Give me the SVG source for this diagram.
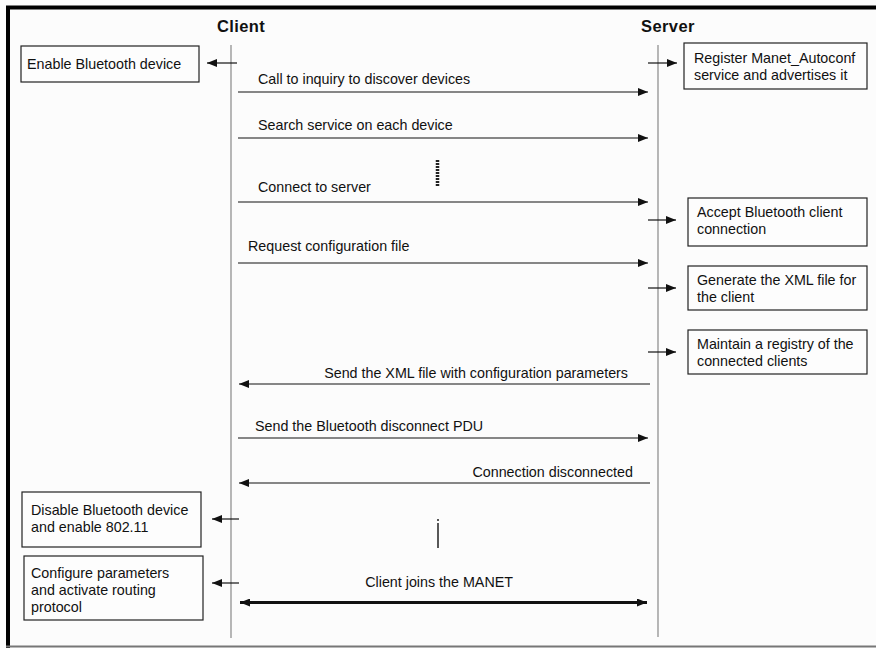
<svg xmlns="http://www.w3.org/2000/svg" width="876" height="648" viewBox="0 0 876 648">
<defs>
<style>
text{font-family:"Liberation Sans",Arial,sans-serif;font-size:14.3px;fill:#111}
.h{font-weight:bold;font-size:16.5px;letter-spacing:0.4px}
.box{fill:#fdfdfd;stroke:#222;stroke-width:1.2}
.life{stroke:#888;stroke-width:1.2}
.msg{stroke:#111;stroke-width:1.2;fill:none}
</style>
<marker id="ah" viewBox="0 0 10 8" refX="10" refY="4" markerWidth="10" markerHeight="8" markerUnits="userSpaceOnUse" orient="auto">
<path d="M0,0 L10,4 L0,8 Z" fill="#111"/>
</marker>
<marker id="ahb" viewBox="0 0 10 8" refX="10" refY="4" markerWidth="10" markerHeight="8" markerUnits="userSpaceOnUse" orient="auto-start-reverse">
<path d="M0,0 L10,4 L0,8 Z" fill="#111"/>
</marker>
</defs>
<rect x="0" y="0" width="876" height="648" fill="#fcfcfc"/>
<g id="frame">
<line x1="6" y1="7.5" x2="876" y2="7.5" stroke="#000" stroke-width="4"/>
<line x1="8" y1="6" x2="8" y2="648" stroke="#000" stroke-width="4"/>
<line x1="6" y1="646.5" x2="876" y2="646.5" stroke="#777" stroke-width="2"/>
</g>
<g id="client">
<text class="h" x="217" y="32">Client</text>
<line class="life" x1="231" y1="45" x2="231" y2="638"/>
</g>
<g id="server">
<text class="h" x="641" y="32">Server</text>
<line class="life" x1="658" y1="45" x2="658" y2="637"/>
</g>
<g id="n-enable">
<rect class="box" x="21" y="46" width="178" height="36"/>
<text x="27" y="69">Enable Bluetooth device</text>
</g>
<g id="n-register">
<rect class="box" x="684" y="43" width="183" height="46"/>
<text x="694" y="63">Register Manet_Autoconf</text>
<text x="694" y="80">service and advertises it</text>
</g>
<g id="n-accept">
<rect class="box" x="688" y="198" width="179" height="48"/>
<text x="697" y="217">Accept Bluetooth client</text>
<text x="697" y="234">connection</text>
</g>
<g id="n-generate">
<rect class="box" x="688" y="266" width="179" height="44"/>
<text x="697" y="285">Generate the XML file for</text>
<text x="697" y="302">the client</text>
</g>
<g id="n-maintain">
<rect class="box" x="688" y="330" width="179" height="44"/>
<text x="697" y="349">Maintain a registry of the</text>
<text x="697" y="366">connected clients</text>
</g>
<g id="n-disable">
<rect class="box" x="22" y="492" width="179" height="55"/>
<text x="31" y="515">Disable Bluetooth device</text>
<text x="31" y="532">and enable 802.11</text>
</g>
<g id="n-configure">
<rect class="box" x="24" y="556" width="179" height="64"/>
<text x="31" y="578">Configure parameters</text>
<text x="31" y="595">and activate routing</text>
<text x="31" y="612">protocol</text>
</g>
<g id="connectors">
<line class="msg" x1="237" y1="63" x2="207" y2="63" marker-end="url(#ah)"/>
<line class="msg" x1="648" y1="63" x2="677" y2="63" marker-end="url(#ah)"/>
<line class="msg" x1="238" y1="92" x2="648" y2="92" marker-end="url(#ah)"/>
<line class="msg" x1="238" y1="138" x2="648" y2="138" marker-end="url(#ah)"/>
<line x1="437.5" y1="160" x2="437.5" y2="187" stroke="#222" stroke-width="3.5" stroke-dasharray="2,1"/>
<line class="msg" x1="238" y1="202" x2="648" y2="202" marker-end="url(#ah)"/>
<line class="msg" x1="648" y1="220" x2="676" y2="220" marker-end="url(#ah)"/>
<line class="msg" x1="238" y1="263" x2="648" y2="263" marker-end="url(#ah)"/>
<line class="msg" x1="648" y1="288" x2="676" y2="288" marker-end="url(#ah)"/>
<line class="msg" x1="648" y1="352" x2="676" y2="352" marker-end="url(#ah)"/>
<line class="msg" x1="650" y1="384" x2="239" y2="384" marker-end="url(#ah)"/>
<line class="msg" x1="238" y1="438" x2="648" y2="438" marker-end="url(#ah)"/>
<line class="msg" x1="650" y1="483" x2="239" y2="483" marker-end="url(#ah)"/>
<line class="msg" x1="239" y1="519" x2="212" y2="519" marker-end="url(#ah)"/>
<line x1="438" y1="523" x2="438" y2="548" stroke="#222" stroke-width="1.5"/>
<line x1="438" y1="519" x2="438" y2="521" stroke="#222" stroke-width="1.5"/>
<line class="msg" x1="239" y1="583" x2="212" y2="583" marker-end="url(#ah)"/>
<line x1="240" y1="602.5" x2="647" y2="602.5" stroke="#111" stroke-width="3" marker-start="url(#ahb)" marker-end="url(#ahb)"/>
<text x="258" y="84">Call to inquiry to discover devices</text>
<text x="258" y="130">Search service on each device</text>
<text x="258" y="192">Connect to server</text>
<text x="248" y="251">Request configuration file</text>
<text x="628" y="378" text-anchor="end">Send the XML file with configuration parameters</text>
<text x="255" y="431">Send the Bluetooth disconnect PDU</text>
<text x="633" y="477" text-anchor="end">Connection disconnected</text>
<text x="513" y="587" text-anchor="end">Client joins the MANET</text>
</g>
</svg>
